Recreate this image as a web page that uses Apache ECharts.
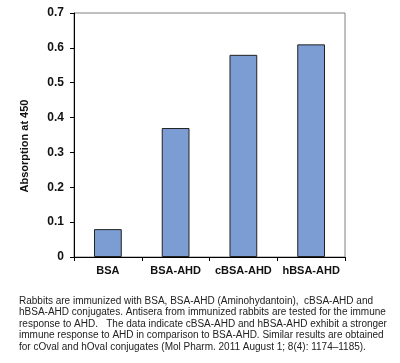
<!DOCTYPE html>
<html>
<head>
<meta charset="utf-8">
<script src="https://cdn.jsdelivr.net/npm/echarts@6/dist/echarts.min.js"></script>
<style>html,body{margin:0;padding:0;background:#fff;}#c{width:400px;height:363px;}</style>
</head>
<body>
<div id="c"></div>
<script>
var categories = ['BSA', 'BSA-AHD', 'cBSA-AHD', 'hBSA-AHD'];
var absorption = [0.08, 0.37, 0.58, 0.61];
var yTicks = [0, 0.1, 0.2, 0.3, 0.4, 0.5, 0.6, 0.7];
var captionLines = [
  'Rabbits are immunized with BSA, BSA-AHD (Aminohydantoin),  cBSA-AHD and',
  'hBSA-AHD conjugates. Antisera from immunized rabbits are tested for the immune',
  'response to AHD.   The data indicate cBSA-AHD and hBSA-AHD exhibit a stronger',
  'immune response to AHD in comparison to BSA-AHD. Similar results are obtained',
  'for cOval and hOval conjugates (Mol Pharm. 2011 August 1; 8(4): 1174\u20131185).'
];

var chart = echarts.init(document.getElementById('c'), null, {renderer: 'canvas'});
chart.setOption({
  backgroundColor: '#fff',
  animation: false,
  grid: {left: 74, right: 55, top: 13, bottom: 106, show: true, borderColor: '#808080', borderWidth: 1, backgroundColor: 'transparent'},
  title: {
    text: captionLines.join('\n'),
    left: 19, top: 295, padding: 0,
    textStyle: {fontFamily: 'Liberation Sans, Arial', fontSize: 10, fontWeight: 'normal', color: '#222', lineHeight: 11.5}
  },
  xAxis: {
    type: 'category',
    data: categories,
    axisLine: {lineStyle: {color: '#000', width: 1}},
    axisTick: {show: true, length: 4, inside: false, lineStyle: {color: '#000'}},
    axisLabel: {interval: 0, fontFamily: 'Liberation Sans, Arial', fontWeight: 'bold', fontSize: 11, color: '#111', margin: 8}
  },
  yAxis: {
    type: 'value',
    min: yTicks[0], max: yTicks[yTicks.length - 1], interval: 0.1,
    name: 'Absorption at 450',
    nameLocation: 'middle',
    nameGap: 44,
    nameRotate: 90,
    nameTextStyle: {fontFamily: 'Liberation Sans, Arial', fontWeight: 'bold', fontSize: 11, color: '#111', padding: [0, 22, 0, 0]},
    axisLine: {show: true, lineStyle: {color: '#000', width: 1}},
    axisTick: {show: true, length: 4, lineStyle: {color: '#000'}},
    splitLine: {show: false},
    axisLabel: {fontFamily: 'Liberation Sans, Arial', fontWeight: 'bold', fontSize: 12, color: '#111', margin: 10,
      formatter: function (v) { return String(Math.round(v * 10) / 10); }}
  },
  series: [{
    type: 'bar',
    data: absorption,
    barWidth: '41%',
    itemStyle: {color: '#7c9dd3', borderColor: '#222', borderWidth: 1}
  }]
});
</script>
</body>
</html>
